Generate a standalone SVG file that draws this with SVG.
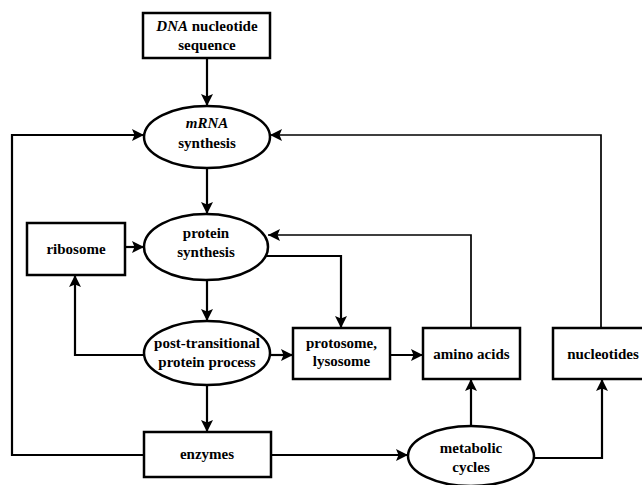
<svg xmlns="http://www.w3.org/2000/svg" width="642" height="485" viewBox="0 0 642 485">
<style>
.box{fill:#fff;stroke:#000;stroke-width:2.5}
.ell{fill:#fff;stroke:#000;stroke-width:2.5}
.ln{fill:none;stroke:#000;stroke-width:2.2;marker-end:url(#ah)}
.thin{stroke-width:1.7}
.lbl{font-family:'Liberation Serif','Times New Roman',Times,serif;font-weight:bold;font-size:15px;text-anchor:middle;fill:#000}
.it{font-style:italic}
</style>
<defs>
<marker id="ah" markerUnits="userSpaceOnUse" markerWidth="12" markerHeight="12" viewBox="0 0 12 12" refX="12" refY="6" orient="auto">
<path d="M0,0 L12,6 L0,12 L2.5,6 z" fill="#000"/>
</marker>
</defs>
<rect width="642" height="485" fill="#fff"/>
<g id="connectors">
<path class="ln" d="M207,58 V106"/>
<path class="ln" d="M207,168 V214"/>
<path class="ln" d="M207,280 V321"/>
<path class="ln" d="M207,385 V432"/>
<path class="ln" d="M125,247 H144"/>
<path class="ln" d="M144,355 H75 V275"/>
<path class="ln" d="M270,355 H293"/>
<path class="ln" d="M265,256 H341 V328"/>
<path class="ln" d="M390,355 H423"/>
<path class="ln thin" d="M471,328 V235 H268"/>
<path class="ln thin" d="M601,328 V135 H270"/>
<path class="ln" d="M144,455 H12 V135 H144"/>
<path class="ln" d="M271,455 H408"/>
<path class="ln" d="M471,426 V379"/>
<path class="ln" d="M534,458 H602 V379"/>
</g>
<g class="lbl" font-family="Liberation Serif, Times New Roman, serif">
<g id="dna">
<rect class="box" x="143" y="13" width="127" height="45"/>
<text x="207" y="31"><tspan class="it">DNA</tspan> nucleotide</text>
<text x="207" y="50">sequence</text>
</g>
<g id="mrna">
<ellipse class="ell" cx="207" cy="137" rx="63" ry="31"/>
<text x="207" y="128" class="it">mRNA</text>
<text x="207" y="148">synthesis</text>
</g>
<g id="protein">
<ellipse class="ell" cx="206" cy="247" rx="62" ry="33"/>
<text x="206" y="238">protein</text>
<text x="206" y="257">synthesis</text>
</g>
<g id="ribosome">
<rect class="box" x="27" y="223" width="98" height="52"/>
<text x="76" y="254">ribosome</text>
</g>
<g id="post">
<ellipse class="ell" cx="207" cy="353" rx="63" ry="32"/>
<text x="207" y="348">post-transitional</text>
<text x="207" y="367">protein process</text>
</g>
<g id="protosome">
<rect class="box" x="293" y="328" width="97" height="51"/>
<text x="341.5" y="348">protosome,</text>
<text x="341.5" y="366">lysosome</text>
</g>
<g id="amino">
<rect class="box" x="423" y="328" width="97" height="51"/>
<text x="471.5" y="359">amino acids</text>
</g>
<g id="nucleotides">
<rect class="box" x="553" y="328" width="100" height="51"/>
<text x="603" y="359">nucleotides</text>
</g>
<g id="enzymes">
<rect class="box" x="144" y="432" width="127" height="45"/>
<text x="207" y="459">enzymes</text>
</g>
<g id="metabolic">
<ellipse class="ell" cx="471" cy="456" rx="63" ry="30"/>
<text x="471" y="453">metabolic</text>
<text x="471" y="472">cycles</text>
</g>
</g>
</svg>
